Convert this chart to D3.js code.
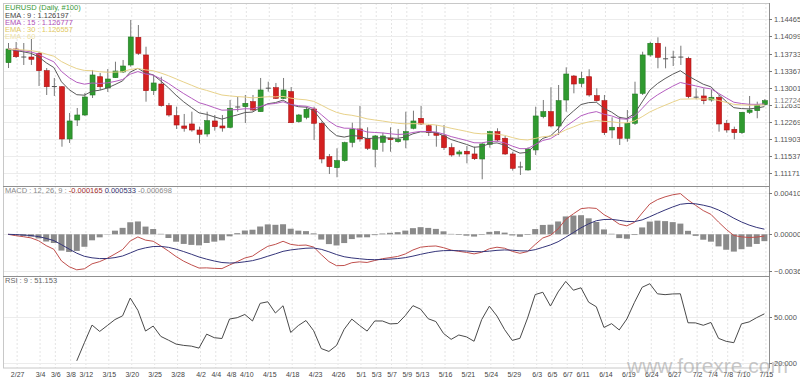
<!DOCTYPE html>
<html>
  <head>
    <title>EURUSD Daily</title>
    <script src="https://d3js.org/d3.v7.min.js"></script>
    <style>
      body { margin: 0; background: #fff; }
      svg text { font-family: "Liberation Sans", Arial, sans-serif; }
    </style>
  </head>
  <body>
    <div id="chart"></div>
    <script>
      // K线数据 (2/26 - 7/15, 100根日线)
      var opens = [1.13537, 1.13830, 1.13669, 1.13659, 1.13738, 1.13366, 1.13038, 1.13023, 1.11905, 1.12311,
        1.12418, 1.12846, 1.13237, 1.12996, 1.13216, 1.13338, 1.13488, 1.14080, 1.13702, 1.12938,
        1.13081, 1.12617, 1.12403, 1.12183, 1.12226, 1.12097, 1.12012, 1.12290, 1.12183, 1.12155,
        1.12600, 1.12596, 1.12703, 1.12489, 1.13002, 1.13002, 1.12775, 1.12917, 1.12275, 1.12369,
        1.12547, 1.12241, 1.11526, 1.11291, 1.11441, 1.11834, 1.12119, 1.11920, 1.11684, 1.11834,
        1.11926, 1.11847, 1.11883, 1.12134, 1.12347, 1.12189, 1.12027, 1.11975, 1.11719, 1.11584,
        1.11642, 1.11584, 1.11477, 1.11791, 1.12061, 1.11920, 1.11584, 1.11317, 1.11242, 1.11670,
        1.12382, 1.12489, 1.12183, 1.12739, 1.13252, 1.13096, 1.13237, 1.12831, 1.12724, 1.12097,
        1.12155, 1.11920, 1.12241, 1.12882, 1.13702, 1.13952, 1.13631, 1.13665, 1.13659, 1.13631,
        1.12810, 1.12825, 1.12739, 1.12797, 1.12241, 1.12112, 1.12040, 1.12476, 1.12510, 1.12640];
      var highs = [1.13958, 1.13980, 1.13958, 1.14044, 1.13772, 1.13423, 1.13210, 1.13038, 1.12461, 1.12568,
        1.12889, 1.13381, 1.13317, 1.13402, 1.13558, 1.13595, 1.14450, 1.14343, 1.13879, 1.13274,
        1.13237, 1.12675, 1.12596, 1.12440, 1.12489, 1.12168, 1.12489, 1.12418, 1.12418, 1.12739,
        1.12810, 1.12846, 1.12846, 1.13210, 1.13130, 1.13103, 1.13210, 1.13017, 1.12440, 1.12574,
        1.12596, 1.12275, 1.11584, 1.11706, 1.11847, 1.12253, 1.12611, 1.12155, 1.11990, 1.12040,
        1.12155, 1.12119, 1.12489, 1.12510, 1.12611, 1.12219, 1.12204, 1.12204, 1.11813, 1.11670,
        1.11755, 1.11740, 1.11826, 1.12082, 1.12134, 1.11969, 1.11633, 1.11419, 1.11727, 1.12596,
        1.12739, 1.13011, 1.13060, 1.13438, 1.13274, 1.13344, 1.13396, 1.12989, 1.12846, 1.12369,
        1.12382, 1.12525, 1.13130, 1.13772, 1.13986, 1.14080, 1.13879, 1.13793, 1.13900, 1.13665,
        1.12989, 1.12989, 1.12953, 1.12846, 1.12311, 1.12168, 1.12476, 1.12825, 1.12703, 1.12760];
      var lows = [1.13423, 1.13637, 1.13488, 1.13488, 1.13038, 1.12846, 1.12825, 1.11740, 1.11819, 1.12183,
        1.12397, 1.12782, 1.12953, 1.12910, 1.13210, 1.13316, 1.13451, 1.13702, 1.12703, 1.12846,
        1.12596, 1.12382, 1.12119, 1.12061, 1.12061, 1.11813, 1.11954, 1.12082, 1.12061, 1.12134,
        1.12489, 1.12247, 1.12489, 1.12489, 1.12917, 1.12760, 1.12760, 1.12247, 1.12253, 1.12326,
        1.11883, 1.11385, 1.11156, 1.11086, 1.11419, 1.11727, 1.11847, 1.11670, 1.11300, 1.11633,
        1.11633, 1.11826, 1.11706, 1.12112, 1.12204, 1.11969, 1.11740, 1.11670, 1.11526, 1.11526,
        1.11385, 1.11455, 1.11043, 1.11719, 1.11862, 1.11563, 1.11227, 1.11135, 1.11227, 1.11563,
        1.12348, 1.12155, 1.11990, 1.12489, 1.12882, 1.13011, 1.12810, 1.12703, 1.11990, 1.11920,
        1.11776, 1.11847, 1.12204, 1.12846, 1.13665, 1.13417, 1.13417, 1.13466, 1.13488, 1.12775,
        1.12754, 1.12647, 1.12703, 1.12061, 1.12040, 1.11898, 1.12012, 1.12440, 1.12348, 1.12620];
      var closes = [1.13830, 1.13665, 1.13659, 1.13610, 1.13366, 1.13023, 1.13028, 1.11905, 1.12290, 1.12418,
        1.12803, 1.13274, 1.13023, 1.13188, 1.13359, 1.13466, 1.14087, 1.13738, 1.12938, 1.13103,
        1.12617, 1.12418, 1.12204, 1.12134, 1.12097, 1.12005, 1.12296, 1.12168, 1.12140, 1.12562,
        1.12594, 1.12668, 1.12525, 1.12953, 1.12998, 1.12775, 1.12953, 1.12253, 1.12418, 1.12540,
        1.12241, 1.11477, 1.11312, 1.11441, 1.11826, 1.12112, 1.11905, 1.11706, 1.11969, 1.11969,
        1.11890, 1.11898, 1.12061, 1.12290, 1.12226, 1.12040, 1.11984, 1.11719, 1.11563, 1.11627,
        1.11584, 1.11483, 1.11798, 1.12061, 1.11883, 1.11584, 1.11278, 1.11312, 1.11691, 1.12397,
        1.12489, 1.12183, 1.12724, 1.13295, 1.13081, 1.13203, 1.12846, 1.12724, 1.12040, 1.12155,
        1.11920, 1.12241, 1.12867, 1.13702, 1.13952, 1.13652, 1.13627, 1.13661, 1.13668, 1.12810,
        1.12805, 1.12724, 1.12797, 1.12226, 1.12097, 1.12040, 1.12476, 1.12525, 1.12632, 1.12724];

      var dateLabels = ["2/27", "3/4", "3/6", "3/8", "3/12", "3/15", "3/20", "3/25", "3/28", "4/2", "4/4",
        "4/8", "4/10", "4/15", "4/18", "4/23", "4/26", "5/1", "5/3", "5/7", "5/9", "5/13", "5/16", "5/21",
        "5/24", "5/29", "6/3", "6/5", "6/7", "6/11", "6/14", "6/19", "6/24", "6/27", "7/2", "7/4", "7/8",
        "7/10", "7/15"];
      var priceTicks = [1.14465, 1.14099, 1.13733, 1.13367, 1.13001, 1.12635, 1.12269, 1.11903, 1.11537, 1.11171];
      var macdTicks = [0.0041, 0, -0.00362];
      var rsiTicks = [50, 20];
      var lastPrice = 1.12724;

      var emaPeriods = [9, 15, 30];
      var emaColors = ["#5a5a5a", "#b55ec0", "#e8d28a"];
      var legendTexts = ["EMA : 9 : 1.126197", "EMA : 15 : 1.126777", "EMA : 30 : 1.126557", "EMA : 60"];
      var legendColors = ["#444", "#b050b8", "#e2c864", "#eee2a8"];

      var width = 800, height = 378;
      var left = 3, right = 769;
      var panels = [[3, 186], [186, 276], [276, 368]];

      // 交易日 (周一到周五)
      var fmt = d3.utcFormat("%-m/%-d");
      var dates = d3.utcDay.range(new Date(Date.UTC(2019, 1, 26)), new Date(Date.UTC(2019, 6, 16)))
        .filter(function(d) { return d.getUTCDay() > 0 && d.getUTCDay() < 6; })
        .map(fmt);

      // 指标计算
      function ema(values, n) {
        var k = 2 / (n + 1), out = [];
        values.forEach(function(v, i) {
          out.push(i === 0 ? v : v * k + out[i - 1] * (1 - k));
        });
        return out;
      }
      var ema12 = ema(closes, 12), ema26 = ema(closes, 26);
      var macd = closes.map(function(c, i) { return ema12[i] - ema26[i]; });
      var signal = ema(macd, 9);
      var hist = macd.map(function(m, i) { return m - signal[i]; });

      var rsiN = 9, rsi = [], avgU = 0, avgD = 0;
      for (var i = 1; i < closes.length; i++) {
        var ch = closes[i] - closes[i - 1];
        var u = Math.max(ch, 0), dn = Math.max(-ch, 0);
        if (i <= rsiN) {
          avgU += u / rsiN; avgD += dn / rsiN;
          if (i === rsiN) rsi.push([i, 100 * avgU / (avgU + avgD)]);
        } else {
          avgU = (avgU * (rsiN - 1) + u) / rsiN;
          avgD = (avgD * (rsiN - 1) + dn) / rsiN;
          rsi.push([i, 100 * avgU / (avgU + avgD)]);
        }
      }

      var svg = d3.select("#chart")
        .append("svg")
        .attr("width", width)
        .attr("height", height);

      var x = d3.scalePoint().domain(d3.range(closes.length)).range([8, 764.4]);
      var yPrice = d3.scaleLinear().domain([1.10899, 1.14814]).range([186, 3]);
      var yMacd = d3.scaleLinear().domain([-0.00417, 0.00483]).range([276, 186]);
      var yRsi = d3.scaleLinear().domain([16.5, 76.5]).range([368, 276]);

      // 网格
      var labelIdx = dateLabels.map(function(l) { return dates.indexOf(l); });
      svg.append("g").selectAll("line")
        .data(labelIdx)
        .enter()
        .append("line")
        .attr("x1", function(d) { return x(d) + 1.5; })
        .attr("x2", function(d) { return x(d) + 1.5; })
        .attr("y1", 3)
        .attr("y2", 368)
        .style("stroke", "#e4e4e4")
        .style("stroke-dasharray", "2,2");

      function hGrid(ticks, scale) {
        svg.append("g").selectAll("line")
          .data(ticks)
          .enter()
          .append("line")
          .attr("x1", left)
          .attr("x2", right)
          .attr("y1", function(d) { return Math.round(scale(d)) + 0.5; })
          .attr("y2", function(d) { return Math.round(scale(d)) + 0.5; })
          .style("stroke", "#ececec");
      }
      hGrid(priceTicks, yPrice);
      hGrid(macdTicks, yMacd);
      hGrid(rsiTicks, yRsi);

      // 蜡烛图
      var candles = svg.append("g").selectAll("g")
        .data(closes.map(function(c, i) {
          return { i: i, o: opens[i], h: highs[i], l: lows[i], c: c };
        }))
        .enter()
        .append("g");

      candles.append("line")
        .attr("x1", function(d) { return x(d.i) + 0.5; })
        .attr("x2", function(d) { return x(d.i) + 0.5; })
        .attr("y1", function(d) { return yPrice(d.h); })
        .attr("y2", function(d) { return yPrice(d.l); })
        .style("stroke", "#777");

      candles.append("rect")
        .attr("x", function(d) { return x(d.i) - 2; })
        .attr("width", 5)
        .attr("y", function(d) { return yPrice(Math.max(d.o, d.c)); })
        .attr("height", function(d) { return Math.max(1, Math.abs(yPrice(d.o) - yPrice(d.c))); })
        .style("fill", function(d) {
          if (Math.abs(d.c - d.o) < 0.00012) return "#555";
          return d.c > d.o ? "#2f9a2f" : "#d42020";
        })
        .style("stroke", function(d) {
          if (Math.abs(d.c - d.o) < 0.00012) return "none";
          return d.c > d.o ? "#237a23" : "#a81515";
        })
        .style("stroke-width", 0.6);

      // EMA
      emaPeriods.forEach(function(p, k) {
        var vals = ema(closes, p);
        svg.append("path")
          .attr("d", d3.line()
            .x(function(d, i) { return x(i); })
            .y(function(d) { return yPrice(d); })(vals))
          .style("fill", "none")
          .style("stroke", emaColors[k])
          .style("stroke-width", 1);
      });

      // MACD
      svg.append("g").selectAll("rect")
        .data(hist)
        .enter()
        .append("rect")
        .attr("x", function(d, i) { return x(i) - 3; })
        .attr("width", 6)
        .attr("y", function(d) { return Math.min(yMacd(d), yMacd(0)); })
        .attr("height", function(d) { return Math.abs(yMacd(d) - yMacd(0)); })
        .style("fill", "#8a8a8a");

      svg.append("path")
        .attr("d", d3.line().x(function(d, i) { return x(i); }).y(function(d) { return yMacd(d); })(macd))
        .style("fill", "none")
        .style("stroke", "#c0504d");
      svg.append("path")
        .attr("d", d3.line().x(function(d, i) { return x(i); }).y(function(d) { return yMacd(d); })(signal))
        .style("fill", "none")
        .style("stroke", "#35357a");

      // RSI
      svg.append("path")
        .attr("d", d3.line().x(function(d) { return x(d[0]); }).y(function(d) { return yRsi(d[1]); })(rsi))
        .style("fill", "none")
        .style("stroke", "#4a4a4a");

      // 边框
      svg.append("rect")
        .attr("x", left + 0.5).attr("y", 3.5)
        .attr("width", right - left).attr("height", 364.5)
        .style("fill", "none").style("stroke", "#c8c8c8");
      [186, 276].forEach(function(y) {
        svg.append("line")
          .attr("x1", left).attr("x2", right)
          .attr("y1", y + 0.5).attr("y2", y + 0.5)
          .style("stroke", "#8f8f8f");
      });
      svg.append("line")
        .attr("x1", right + 0.5).attr("x2", right + 0.5)
        .attr("y1", 3).attr("y2", 368)
        .style("stroke", "#8f8f8f");

      // 右侧坐标
      function rightAxis(ticks, scale, f) {
        var g = svg.append("g").selectAll("g")
          .data(ticks)
          .enter()
          .append("g")
          .attr("transform", function(d) { return "translate(0," + (Math.round(scale(d)) + 0.5) + ")"; });
        g.append("line")
          .attr("x1", right).attr("x2", right + 3)
          .style("stroke", "#777");
        g.append("text")
          .attr("x", right + 5)
          .attr("dy", "0.35em")
          .style("font-size", "7.5px")
          .style("fill", "#555")
          .text(f);
      }
      rightAxis(priceTicks, yPrice, d3.format(".5f"));
      rightAxis(macdTicks, yMacd, d3.format(".6f"));
      rightAxis(rsiTicks, yRsi, d3.format(".3f"));

      var lp = svg.append("g").attr("transform", "translate(0," + yPrice(lastPrice) + ")");
      lp.append("rect")
        .attr("x", right + 4).attr("y", -4)
        .attr("width", 30).attr("height", 7.5)
        .style("fill", "#fff");
      lp.append("text")
        .attr("x", right + 5)
        .attr("dy", "0.35em")
        .style("font-size", "7.5px")
        .style("fill", "#777")
        .text(d3.format(".5f")(lastPrice));

      // 日期
      svg.append("g").selectAll("text")
        .data(labelIdx)
        .enter()
        .append("text")
        .attr("x", function(d) { return x(d) + 2; })
        .attr("y", 377)
        .attr("text-anchor", "middle")
        .style("font-size", "7px")
        .style("fill", "#444")
        .text(function(d, i) { return dateLabels[i]; });

      // 图例
      svg.append("text")
        .attr("x", 5).attr("y", 9.5)
        .style("font-size", "7.5px")
        .style("fill", "#3a9a3a")
        .text("EURUSD (Daily, #100)");
      svg.append("g").selectAll("text")
        .data(legendTexts)
        .enter()
        .append("text")
        .attr("x", 5)
        .attr("y", function(d, i) { return 17.5 + i * 7.2; })
        .style("font-size", "7.5px")
        .style("fill", function(d, i) { return legendColors[i]; })
        .text(function(d) { return d; });

      var mt = svg.append("text")
        .attr("x", 5).attr("y", 192.5)
        .style("font-size", "7.5px")
        .style("fill", "#888");
      mt.append("tspan").text("MACD : 12, 26, 9 : ");
      mt.append("tspan").style("fill", "#a02828").text("-0.000165");
      mt.append("tspan").style("fill", "#30306e").text(" 0.000533");
      mt.append("tspan").style("fill", "#888").text(" -0.000698");

      svg.append("text")
        .attr("x", 5).attr("y", 283)
        .style("font-size", "7.5px")
        .style("fill", "#666")
        .text("RSI : 9 : 51.153");

      // 水印
      svg.append("text")
        .attr("x", 627).attr("y", 373)
        .style("font-size", "21px")
        .style("fill", "#9a9a9a")
        .style("fill-opacity", 0.55)
        .text("www.forexre.com");
    </script>
  </body>
</html>
